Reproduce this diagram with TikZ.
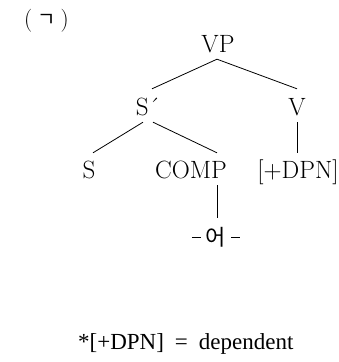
\documentclass[tikz,border=0pt]{standalone}
\usepackage{fontspec}
\newfontfamily\kr{Noto Sans CJK KR}
\newfontfamily\foot{Liberation Serif}
\usetikzlibrary{calc}
\begin{document}
\begin{tikzpicture}[x=1pt,y=-1pt,
  lab/.style={anchor=base,inner sep=0pt,text height=15pt,text depth=0pt,font=\fontsize{25}{29}\selectfont},
  edge/.style={line width=0.8pt}]
\useasboundingbox (0,0) rectangle (338,362);
\node[anchor=base west,inner sep=0pt,font=\fontsize{23}{27}\selectfont] (tag) at (24,26) {(\hspace{5pt}{\kr\fontsize{20}{24}\selectfont ㄱ}\hspace{5pt})};
\node[lab] (VP) at (218,52) {VP};
\node[lab] (Sb) at (148,115) {S´};
\node[lab] (V) at (297,115) {V};
\node[lab] (S) at (89,178) {S};
\node[lab] (COMP) at (191,178) {COMP};
\node[lab] (DPN) at (298,178) {[+DPN]};
\node[anchor=base,inner sep=0pt,text height=15pt,text depth=0pt,font=\kr\fontsize{22}{26}\selectfont] (eo) at (216,245) {\rule[7pt]{9pt}{0.7pt}\hspace{5pt}어\hspace{5pt}\rule[7pt]{9pt}{0.7pt}};
\draw[edge] ($(VP.south)+(-1,7)$) -- ($(Sb.north)+(4,-11)$);
\draw[edge] ($(VP.south)+(-1,7)$) -- ($(V.north)+(0,-11)$);
\draw[edge] ($(Sb.south)+(-5,7)$) -- ($(S.north)+(4,-10)$);
\draw[edge] ($(Sb.south)+(5,7)$) -- ($(COMP.north)+(26,-10)$);
\draw[edge] ($(V.south)+(0,7)$) -- ($(DPN.north)+(-1,-10)$);
\draw[edge] ($(COMP.south)+(26,7)$) -- ($(eo.north)+(1,-12)$);
\node[anchor=base west,inner sep=0pt,font=\foot\fontsize{23}{27}\selectfont] (note) at (78,349) {*[+DPN]\hspace{11pt}=\hspace{11pt}dependent};
\end{tikzpicture}
\end{document}
